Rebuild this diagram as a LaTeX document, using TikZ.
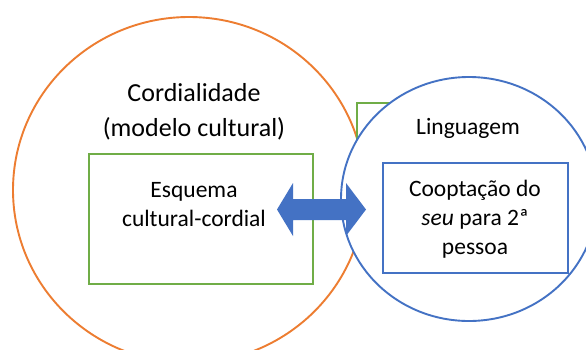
\documentclass[tikz,border=0pt]{standalone}
\usepackage{fontspec}
\setmainfont{Carlito}
\usetikzlibrary{shapes.geometric}
\definecolor{orng}{HTML}{ED7D31}
\definecolor{grn}{HTML}{70AD47}
\definecolor{blu}{HTML}{4472C4}
\begin{document}
\begin{tikzpicture}[x=1pt,y=-1pt, line width=1.9pt,
  bigtxt/.style={font=\fontsize{26}{35}\selectfont, align=center, inner sep=0pt},
  smalltxt/.style={font=\fontsize{23.5}{29}\selectfont, align=center, inner sep=0pt},
  boxg/.style={draw=grn, inner sep=0pt},
  boxb/.style={draw=blu, inner sep=0pt}]
\useasboundingbox[fill=white] (0,0) rectangle (586,349);
\begin{scope}
\clip (0,0) rectangle (586,349);
\node[ellipse, draw=orng, fill=white, minimum width=352pt, minimum height=346pt, inner sep=0pt] (cultura) at (189,190) {};
\node[boxg, minimum width=224pt, minimum height=130pt] (esq) at (201,219) {};
\node[boxg, minimum width=100pt, minimum height=100pt] (behind) at (407,153) {};
\node[ellipse, draw=blu, fill=white, minimum width=256pt, minimum height=244pt, inner sep=0pt] (ling) at (469,199) {};
\node[boxb, minimum width=185pt, minimum height=110pt] (coop) at (475.5,218) {};
\end{scope}
\node[bigtxt] (t1) at (194,112) {Cordialidade\\(modelo cultural)};
\node[smalltxt] (t2) at (194,205) {Esquema\\cultural-cordial};
\node[smalltxt] (t3) at (468,128) {Linguagem};
\node[smalltxt] (t4) at (475,219) {Cooptação do\\\textit{seu} para 2ª\\pessoa};
\fill[blu] (277,209.5) -- (293,183) -- (293,199) -- (346,199) -- (346,183) -- (366,209.5)
  -- (346,236) -- (346,220) -- (293,220) -- (293,236) -- cycle;
\end{tikzpicture}
\end{document}
